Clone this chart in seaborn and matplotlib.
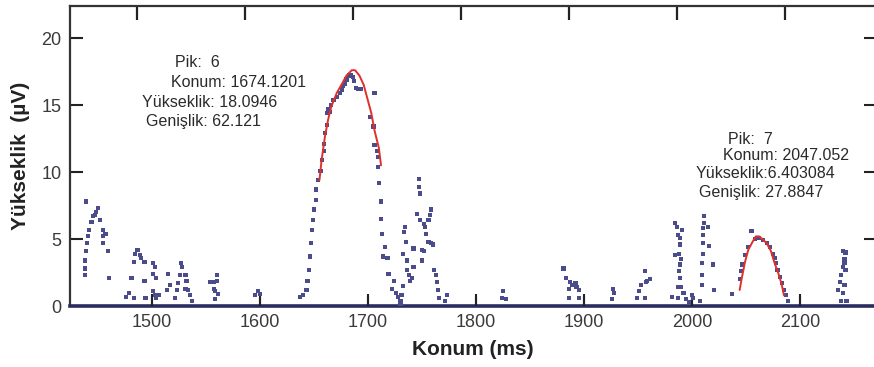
import matplotlib
matplotlib.use("Agg")
import matplotlib.pyplot as plt
import seaborn as sns
import pandas as pd

# ---- data ----
signal_x = [
    1438, 1438, 1438, 1439, 1440, 1441, 1442, 1444, 1445, 1439, 1447, 1448, 1450, 1452, 1455, 1455, 1455, 1457, 1459, 1460,
    1476, 1479, 1483, 1481, 1483, 1484, 1486, 1487, 1489, 1490, 1493, 1493, 1494,
    1501, 1503, 1501, 1504, 1501, 1503, 1506, 1504,
    1515, 1517, 1514, 1521, 1523, 1524, 1526, 1527, 1528, 1531, 1532, 1531, 1533, 1535, 1537,
    1554, 1557, 1560, 1560, 1557, 1558, 1561, 1558,
    1595, 1598, 1600,
    1637, 1640, 1643, 1644, 1645, 1646, 1647, 1648, 1649, 1650, 1652, 1652, 1654, 1656, 1657, 1659, 1659,
    1660, 1662, 1662, 1663, 1665, 1666, 1668, 1671, 1674, 1676, 1677, 1679, 1680, 1682, 1684, 1686, 1687,
    1689, 1691, 1693, 1706, 1702, 1705, 1706, 1708, 1709, 1709, 1710, 1712, 1712, 1713, 1716, 1714, 1718,
    1719, 1722, 1724, 1726, 1728, 1730, 1730, 1731, 1732,
    1732, 1733, 1734, 1735, 1736, 1736, 1738, 1739, 1741, 1742, 1742, 1745, 1747, 1747, 1748, 1748, 1750,
    1750, 1752, 1752, 1753, 1754, 1756, 1756, 1757, 1758, 1758, 1760, 1761, 1763, 1764, 1765, 1766,
    1771, 1773,
    1824, 1825, 1828,
    1881, 1883, 1887, 1886, 1886, 1889, 1892, 1893, 1895, 1895,
    1926, 1927, 1928,
    1949, 1951, 1953, 1956, 1957, 1958, 1961, 1956,
    1984, 1986, 1987, 1989, 1991, 1989, 1984, 1988, 1990, 1989, 1988, 1989, 1987, 1990, 1981, 1987,
    1992, 1994, 1997, 2000, 2001, 2007,
    2009, 2009, 2009, 2010, 2010, 2010, 2010, 2011, 2011, 2015, 2016, 2019, 2020,
    2037, 2044, 2045, 2046, 2049, 2052, 2055, 2058, 2062, 2066, 2069, 2072, 2075, 2077, 2078, 2079, 2081,
    2083, 2085, 2087, 2089,
    2135, 2137, 2138, 2140, 2141, 2140, 2142, 2141, 2142, 2141, 2140, 2138, 2143,
]
signal_y = [
    2.3, 2.8, 3.4, 4.1, 4.7, 5.2, 5.7, 6.3, 6.7, 7.8, 6.8, 7.0, 7.3, 6.4, 5.7, 5.2, 4.7, 5.4, 4.1, 2.1,
    0.7, 1.0, 0.6, 2.1, 3.3, 3.9, 4.2, 4.2, 3.8, 3.6, 3.3, 1.9, 0.6,
    3.2, 2.9, 2.4, 2.1, 1.1, 0.8, 0.8, 0.6,
    2.4, 1.6, 1.2, 0.6, 1.2, 1.7, 2.3, 3.2, 2.9, 2.3, 1.9, 1.3, 1.2, 0.8, 0.4,
    1.8, 1.8, 2.3, 1.9, 1.3, 1.1, 0.9, 0.5,
    0.8, 1.1, 0.9,
    0.7, 0.8, 1.2, 1.9, 2.7, 3.7, 4.7, 5.7, 6.4, 7.2, 7.9, 8.7, 9.4, 10.1, 10.9, 11.6, 12.1,
    12.9, 13.5, 14.4, 14.7, 14.5, 15.0, 15.4, 15.6, 15.9, 16.1, 16.4, 16.6, 16.9, 17.2, 17.2, 17.1, 16.8,
    16.3, 16.2, 16.2, 15.9, 14.1, 13.4, 12.0, 11.6, 11.1, 10.4, 9.2, 7.8, 6.5, 5.4, 4.4, 3.7, 3.6,
    2.4, 1.3, 1.9, 1.0, 0.7, 0.4, 0.1, 0.8, 1.5,
    3.9, 5.5, 5.9, 4.8, 3.4, 2.7, 2.3, 1.9, 2.1, 2.9, 4.3, 6.9, 9.5, 8.9, 8.4, 6.4, 4.2,
    3.4, 4.1, 6.1, 5.9, 5.4, 4.8, 6.4, 6.8, 7.2, 4.7, 4.6, 2.7, 2.3, 1.8, 1.2, 0.6,
    0.4, 0.8,
    0.6, 1.1, 0.5,
    2.8, 2.1, 1.8, 1.3, 0.6, 1.6, 1.7, 1.4, 1.2, 0.6,
    0.5, 1.3, 1.0,
    0.6, 1.1, 1.6, 0.6, 1.8, 1.9, 2.0, 2.6,
    6.2, 5.9, 5.3, 5.1, 5.7, 4.6, 3.8, 3.9, 3.5, 3.1, 2.6, 2.1, 1.4, 1.4, 0.7, 0.6,
    1.0, 0.5, 0.3, 0.8, 0.6, 0.4,
    1.6, 2.3, 3.2, 3.9, 4.7, 5.3, 5.8, 6.2, 6.7, 5.9, 4.5, 3.1, 1.2,
    0.9, 2.0, 2.6, 3.1, 3.8, 4.4, 5.6, 5.0, 5.1, 4.9, 4.7, 4.4, 3.9, 3.6, 3.2, 2.7, 2.2,
    1.7, 1.2, 0.8, 0.4,
    1.2, 1.8, 2.3, 2.9, 3.5, 4.1, 4.0, 3.2, 2.7, 1.6, 1.0, 0.4, 0.4,
]

fit6_x = [1655, 1657, 1660, 1663, 1666, 1671, 1676, 1680, 1685, 1688, 1692, 1696, 1699, 1703, 1706, 1710, 1712]
fit6_y = [9.4, 10.9, 12.6, 13.9, 14.9, 15.9, 16.6, 17.2, 17.6, 17.6, 17.2, 16.5, 15.6, 14.4, 13.1, 11.8, 10.5]
fit7_x = [2044, 2046, 2049, 2052, 2056, 2059, 2062, 2065, 2069, 2073, 2076, 2080, 2083, 2085]
fit7_y = [1.2, 2.1, 3.3, 4.2, 4.8, 5.2, 5.2, 5.0, 4.7, 4.1, 3.3, 2.4, 1.6, 0.8]

peak6_lines = ["Pik:  6", "Konum: 1674.1201", "Yükseklik: 18.0946", "Genişlik: 62.121"]
peak6_pos = [(1521, 18.2), (1518, 16.7), (1491, 15.2), (1494, 13.8)]
peak7_lines = ["Pik:  7", "Konum: 2047.052", "Yükseklik:6.403084", "Genişlik: 27.8847"]
peak7_pos = [(2033, 12.4), (2029, 11.2), (2003, 9.9), (2006, 8.5)]

x_ticks = [1500, 1600, 1700, 1800, 1900, 2000, 2100]
top_tick_offset = 14   # top-frame ticks sit slightly left of the bottom ones in the source
y_ticks = [0, 5, 10, 15, 20]

# ---- plotting ----
sns.set_theme(style="white", rc={"xtick.bottom": True, "ytick.left": True})
plt.rcParams["font.family"] = ["Liberation Sans", "DejaVu Sans"]

fig = plt.figure(figsize=(8.74, 3.67), dpi=100)
ax = fig.add_axes([0.080, 0.166, 0.922, 0.818])

dot_color = "#4a4c8c"
sig = pd.DataFrame({"x": signal_x, "y": signal_y})
sns.scatterplot(data=sig, x="x", y="y", ax=ax, marker="s", s=9, color=dot_color,
                edgecolor="none", linewidth=0, zorder=3)

f6 = pd.DataFrame({"x": fit6_x, "y": fit6_y})
f7 = pd.DataFrame({"x": fit7_x, "y": fit7_y})
sns.lineplot(data=f6, x="x", y="y", ax=ax, color="#e0302a", linewidth=1.4, sort=False, zorder=4)
sns.lineplot(data=f7, x="x", y="y", ax=ax, color="#e0302a", linewidth=1.4, sort=False, zorder=4)

for (px, py), t in zip(peak6_pos, peak6_lines):
    ax.text(px, py, t, fontsize=11.5, color="#2a2a2a", va="center", ha="left")
for (px, py), t in zip(peak7_pos, peak7_lines):
    ax.text(px, py, t, fontsize=11.5, color="#2a2a2a", va="center", ha="left")

ax.set_xlim(1424, 2170)
ax.set_ylim(0, 22.4)
ax.set_xticks(x_ticks)
ax.set_xticks([t - top_tick_offset for t in x_ticks], minor=True)
ax.set_yticks(y_ticks)

ax.set_xlabel("Konum (ms)", fontsize=15, fontweight="bold", color="#222222", labelpad=6)
ax.set_ylabel("Yükseklik  (µV)", fontsize=15, fontweight="bold", color="#222222", labelpad=8)

for side in ["left", "top"]:
    ax.spines[side].set_color("#333333")
    ax.spines[side].set_linewidth(1.6)
ax.spines["right"].set_visible(False)
ax.spines["bottom"].set_color("#2b2d60")
ax.spines["bottom"].set_linewidth(2.6)

ax.tick_params(axis="both", which="major", direction="in", length=9, width=1.5, labelsize=13,
               labelcolor="#3a3a3a", color="#222222", pad=6)
ax.tick_params(axis="y", which="major", right=True, left=True)
ax.tick_params(axis="x", which="major", bottom=True, top=False, labelbottom=True)
ax.tick_params(axis="x", which="minor", direction="in", bottom=False, top=True,
               length=10, width=1.6, color="#222222", labelbottom=False, labeltop=False)

# inward tick marks on the bottom frame, placed at the x tick positions
ax.vlines(x_ticks, 0, 0.65, colors="#222222", linewidth=1.5, zorder=2.6,
          transform=ax.get_xaxis_transform() if False else ax.transData)

fig.savefig("out.png", dpi=100)
